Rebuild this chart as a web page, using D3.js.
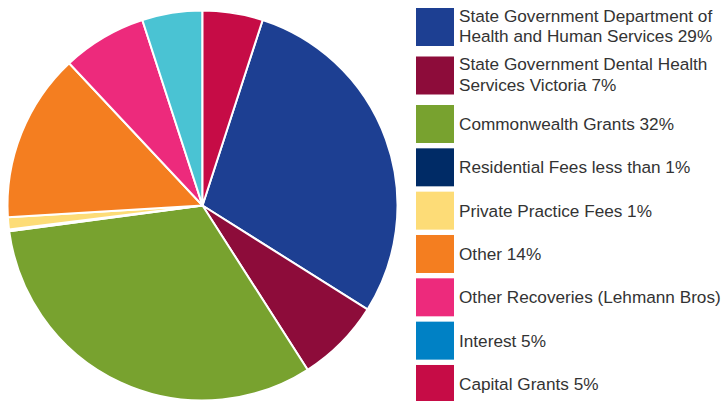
<!DOCTYPE html>
<html>
<head>
<meta charset="utf-8">
<script src="https://cdn.jsdelivr.net/npm/d3@7"></script>
<style>
  html, body { margin: 0; padding: 0; background: #fff; }
  svg { display: block; }
  text { font-family: "Liberation Sans", Arial, Helvetica, sans-serif; }
</style>
</head>
<body>
<svg id="chart" width="723" height="401"></svg>
<script>
// Income sources (share of total, %)
const categories = [
  "State Government Department of Health and Human Services",
  "State Government Dental Health Services Victoria",
  "Commonwealth Grants",
  "Residential Fees",
  "Private Practice Fees",
  "Other",
  "Other Recoveries (Lehmann Bros)",
  "Interest",
  "Capital Grants"
];
const values = [29, 7, 32, 0.15, 1, 14, 7, 5, 5];
const legendLabels = [
  ["State Government Department of", "Health and Human Services 29%"],
  ["State Government Dental Health", "Services Victoria 7%"],
  ["Commonwealth Grants 32%"],
  ["Residential Fees less than 1%"],
  ["Private Practice Fees 1%"],
  ["Other 14%"],
  ["Other Recoveries (Lehmann Bros)"],
  ["Interest 5%"],
  ["Capital Grants 5%"]
];
const swatchColors = ["#1d3f92", "#8d0c3a", "#78a22f", "#002b66", "#fddc77", "#f47e20", "#ed2a7c", "#0081c5", "#c60c46"];
const sliceColors  = ["#1d3f92", "#8d0c3a", "#78a22f", "#002b66", "#fddc77", "#f47e20", "#ed2a7c", "#4ac3d3", "#c60c46"];

const svg = d3.select("#chart");

// ---- Pie ----
const cx = 202.5, cy = 205.5, R = 195;
const total = d3.sum(values);
// rotate so the last slice (Capital Grants) begins at 12 o'clock
const offset = values[values.length - 1] / total * 2 * Math.PI;

const pie = d3.pie()
  .sort(null)
  .value(d => d)
  .startAngle(offset)
  .endAngle(offset + 2 * Math.PI);

const arc = d3.arc().innerRadius(0).outerRadius(R);

svg.append("g")
  .attr("transform", `translate(${cx},${cy})`)
  .selectAll("path")
  .data(pie(values))
  .join("path")
  .attr("d", arc)
  .attr("fill", (d, i) => sliceColors[i])
  .attr("stroke", "#fff")
  .attr("stroke-width", 2)
  .attr("stroke-linejoin", "round");

// ---- Legend ----
const legend = svg.append("g").attr("transform", "translate(416,0)");
const sw = 38, sh = 38;
let y = 8;
legendLabels.forEach((lines, i) => {
  const g = legend.append("g").attr("transform", `translate(0,${y})`);
  g.append("rect")
    .attr("width", sw).attr("height", sh)
    .attr("fill", swatchColors[i]);
  const t = g.append("text")
    .attr("x", 43)
    .attr("fill", "#333")
    .attr("font-size", 17.2);
  if (lines.length === 2) {
    t.append("tspan").attr("x", 43).attr("y", 13.5).text(lines[0]);
    t.append("tspan").attr("x", 43).attr("y", 34).text(lines[1]);
  } else {
    t.append("tspan").attr("x", 43).attr("y", 25).text(lines[0]);
  }
  y += lines.length === 2 ? 48.5 : 43.33;
});
</script>
</body>
</html>
